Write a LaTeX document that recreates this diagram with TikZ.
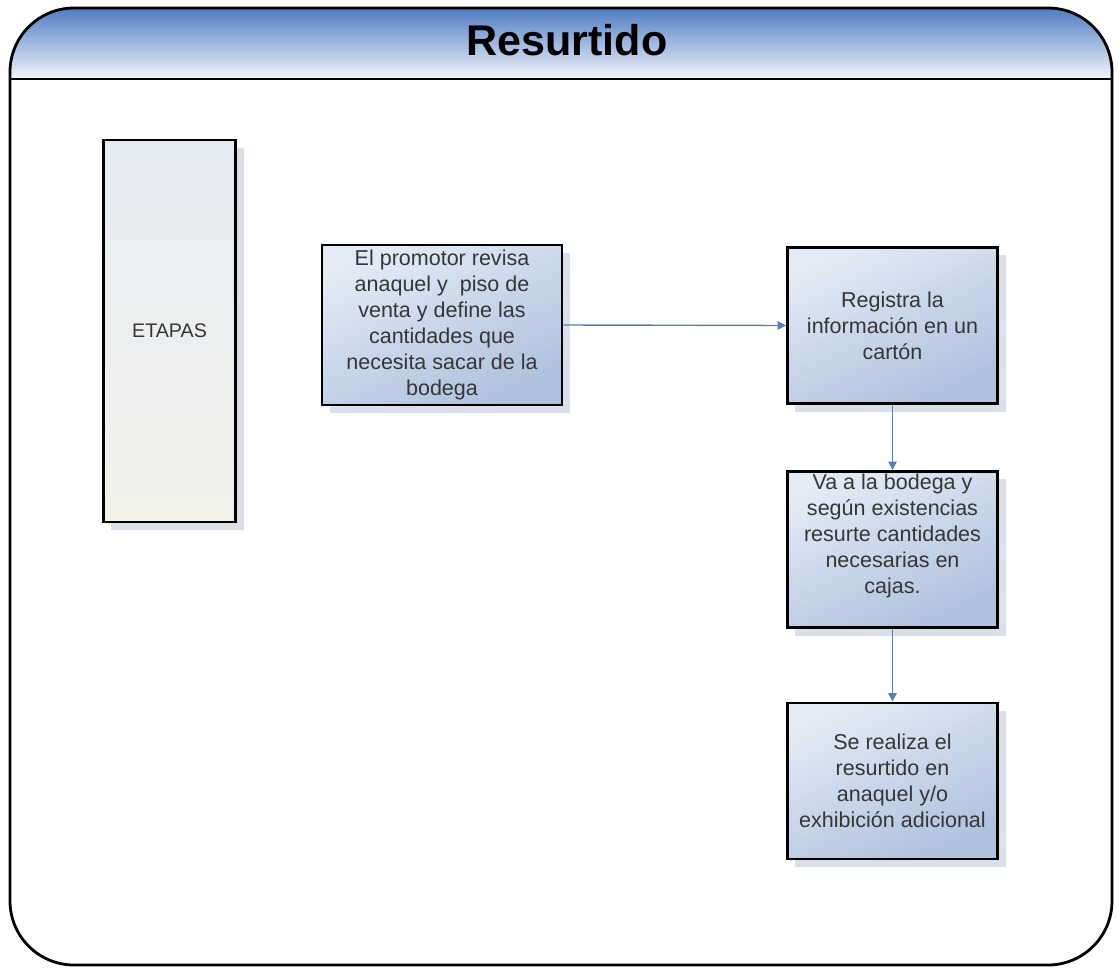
\documentclass[tikz,border=0pt]{standalone}
\usepackage{fontspec}
\setmainfont{Liberation Sans}
\usetikzlibrary{arrows.meta,positioning,shadows}

\definecolor{hdrblue}{HTML}{4F7CC3}
\definecolor{hdrwhite}{HTML}{F4F6FA}
\definecolor{boxlight}{HTML}{E3EAF5}
\definecolor{boxdark}{HTML}{AEC1DD}
\definecolor{etapalight}{HTML}{E6ECF4}
\definecolor{etapadark}{HTML}{F2F2EA}
\definecolor{flowblue}{HTML}{5A7FB3}
\definecolor{shadowgray}{HTML}{DADFE9}
\definecolor{txtgray}{HTML}{363636}

\tikzset{
  stepbox/.style={draw=black, line width=2pt, top color=boxlight, bottom color=boxdark,
    shading angle=25,
    drop shadow={shadow xshift=0.2cm, shadow yshift=-0.2cm, fill=shadowgray, opacity=1},
    minimum width=5.25cm, minimum height=3.9cm, inner sep=0pt},
  steptext/.style={text=txtgray, align=center, inner sep=0pt,
    font=\fontsize{15.3}{18.5}\selectfont},
  flow/.style={draw=flowblue, line width=1pt, -{Triangle[width=6pt,length=6pt]}}
}

\begin{document}
\begin{tikzpicture}[x=0.025cm, y=-0.025cm]
    \useasboundingbox (0,0) rectangle (1119,973);

    % ================= FRAME =================
    \begin{scope}
    \clip[rounded corners=1.6cm] (10,8) rectangle (1112,965);
    \shade[top color=hdrblue, bottom color=hdrwhite] (10,8) rectangle (1112,79);
    \end{scope}
    \draw[line width=2pt] (10,79) -- (1112,79);
    \draw[line width=2pt, rounded corners=1.6cm] (10,8) rectangle (1112,965);

    \node (title) at (567,40) {\fontsize{30.6}{36}\selectfont\bfseries Resurtido};

    % Etapas column
    \node[draw=black, line width=2pt, top color=etapalight, bottom color=etapadark,
      drop shadow={shadow xshift=0.2cm, shadow yshift=-0.2cm, fill=shadowgray, opacity=1},
      minimum width=3.3cm, minimum height=9.55cm, inner sep=0pt,
      text=txtgray, font=\fontsize{14}{17}\selectfont] (etapas) at (169.5,331) {ETAPAS};

    % ================= STEPS =================
    \node[stepbox, minimum width=6cm, minimum height=4cm] (b1) at (442,325) {};
    \node[stepbox] (b2) at (892.5,325.5) {};
    \node[stepbox] (b3) at (892.5,549.5) {};
    \node[stepbox] (b4) at (892.5,781) {};

    \node[steptext] (t1) at (b1)
      {El promotor revisa\\anaquel y\ \ piso de\\venta y define las\\cantidades que\\necesita sacar de la\\bodega};
    \node[steptext] (t2) at (b2) {Registra la\\información en un\\cartón};
    \node[steptext] (t3) at (892.5,536)
      {Va a la bodega y\\según existencias\\resurte cantidades\\necesarias en\\cajas.};
    \node[steptext] (t4) at (b4) {Se realiza el\\resurtido en\\anaquel y/o\\exhibición adicional};

    % Connectors
    \draw[flow] (b1.east) -- (b2.west);
    \draw[flow] (b2.south) -- (b3.north);
    \draw[flow] (b3.south) -- (b4.north);
\end{tikzpicture}
\end{document}
